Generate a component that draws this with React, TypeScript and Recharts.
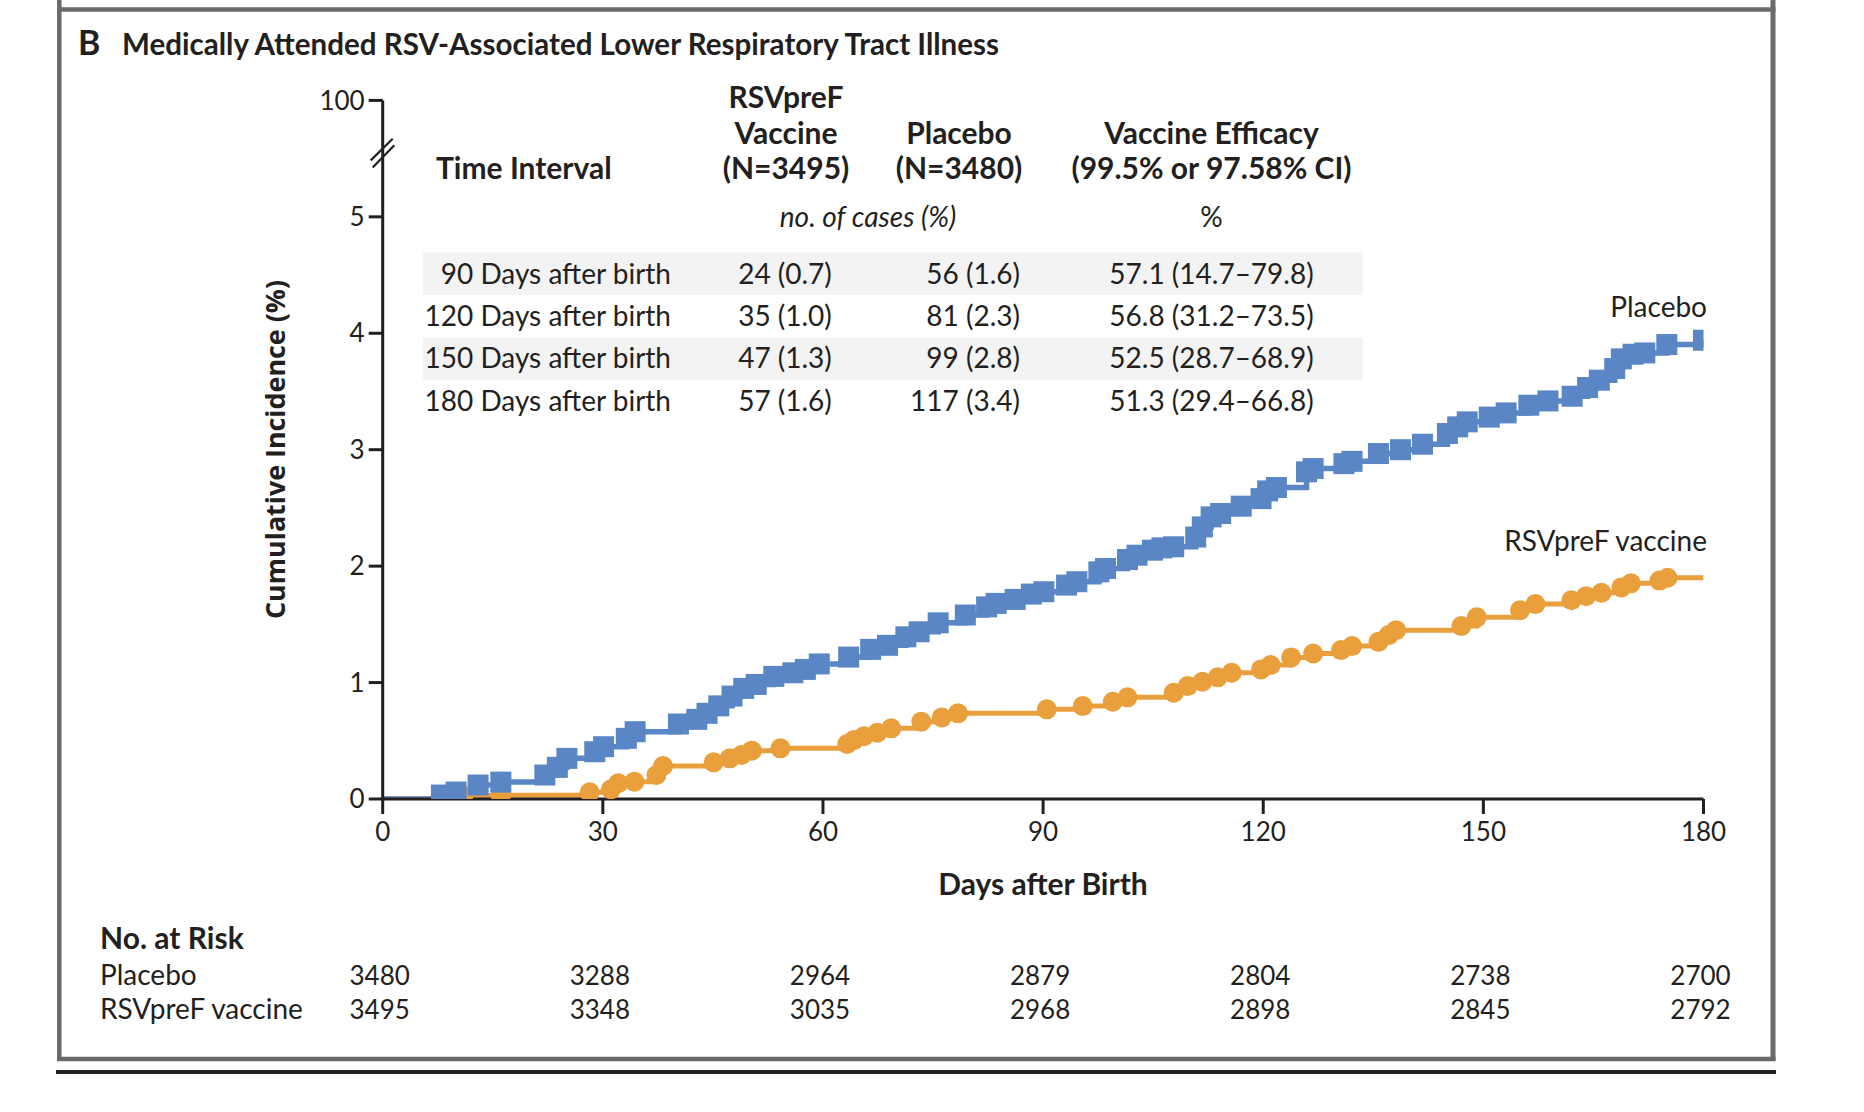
import React from 'react';
import { LineChart, Line, XAxis, YAxis, ReferenceLine } from 'recharts';

// Kaplan-Meier style cumulative incidence (days, %)
const placeboDays = [8.0, 10.0, 13.0, 16.1, 22.1, 23.8, 25.1, 28.9, 30.1, 33.2, 34.4, 40.3, 42.8, 44.2, 45.8, 47.6, 49.2, 50.9, 53.3, 55.9, 57.6, 59.5, 63.5, 66.5, 68.8, 71.3, 73.1, 75.7, 79.4, 82.3, 83.6, 86.2, 88.4, 90.1, 93.2, 94.6, 97.6, 98.5, 101.5, 102.8, 104.9, 106.2, 107.8, 110.8, 111.7, 112.9, 114.2, 117.0, 119.7, 120.6, 121.8, 125.9, 126.8, 131.0, 132.1, 135.7, 138.7, 141.7, 145.1, 146.5, 147.8, 150.8, 153.1, 156.2, 158.8, 162.1, 164.2, 165.8, 167.9, 168.8, 170.4, 172.0, 175.0, 180];
const placeboPct = [0.034, 0.06, 0.12, 0.145, 0.206, 0.272, 0.349, 0.406, 0.449, 0.521, 0.578, 0.644, 0.684, 0.736, 0.8, 0.884, 0.95, 0.984, 1.053, 1.084, 1.113, 1.16, 1.219, 1.285, 1.32, 1.393, 1.436, 1.513, 1.58, 1.65, 1.68, 1.714, 1.76, 1.78, 1.837, 1.866, 1.951, 1.98, 2.057, 2.094, 2.137, 2.157, 2.166, 2.25, 2.337, 2.423, 2.452, 2.515, 2.58, 2.646, 2.675, 2.81, 2.838, 2.88, 2.9, 2.967, 3.0, 3.047, 3.139, 3.196, 3.239, 3.28, 3.316, 3.382, 3.419, 3.459, 3.534, 3.597, 3.697, 3.78, 3.82, 3.831, 3.903, 3.94];

const vaccineDays = [11.0, 16.1, 28.2, 31.1, 32.1, 34.3, 37.3, 38.2, 45.1, 47.3, 48.9, 50.3, 54.2, 63.3, 64.2, 65.6, 67.4, 69.3, 73.4, 76.2, 78.4, 90.5, 95.4, 99.5, 101.5, 107.8, 109.7, 111.7, 113.8, 115.7, 119.7, 121.0, 123.8, 126.8, 130.6, 132.1, 135.7, 137.1, 138.1, 147.0, 149.1, 155.0, 157.1, 162.0, 164.0, 166.1, 168.8, 170.1, 174.0, 175.1];
const vaccinePct = [0.03, 0.032, 0.057, 0.083, 0.135, 0.149, 0.206, 0.283, 0.315, 0.349, 0.378, 0.415, 0.435, 0.472, 0.506, 0.54, 0.569, 0.607, 0.664, 0.701, 0.736, 0.77, 0.798, 0.835, 0.873, 0.913, 0.97, 1.007, 1.045, 1.084, 1.113, 1.15, 1.216, 1.25, 1.279, 1.313, 1.35, 1.408, 1.45, 1.485, 1.56, 1.622, 1.674, 1.708, 1.742, 1.771, 1.817, 1.852, 1.876, 1.9];
const followUpEnd = 180;

const xTicks = [0, 30, 60, 90, 120, 150, 180];
const yTicks = [0, 1, 2, 3, 4, 5, 6];
const yTickLabels = ['0', '1', '2', '3', '4', '5', '100'];

const intervals = ['90 Days after birth', '120 Days after birth', '150 Days after birth', '180 Days after birth'];
const vaccineCases = ['24 (0.7)', '35 (1.0)', '47 (1.3)', '57 (1.6)'];
const placeboCases = ['56 (1.6)', '81 (2.3)', '99 (2.8)', '117 (3.4)'];
const efficacy = ['57.1 (14.7–79.8)', '56.8 (31.2–73.5)', '52.5 (28.7–68.9)', '51.3 (29.4–66.8)'];

const placeboAtRisk = [3480, 3288, 2964, 2879, 2804, 2738, 2700];
const vaccineAtRisk = [3495, 3348, 3035, 2968, 2898, 2845, 2792];

const BLUE = '#5a86c5';
const ORANGE = '#e99f3b';
const INK = '#231f20';
const FRAME = '#6a6a6a';
const FONT = 'Lato, "Open Sans", sans-serif';

// plot geometry
const PLOT_LEFT = 382.7;
const PLOT_RIGHT = 1703.5;
const PLOT_TOP = 100.4;
const PLOT_BOTTOM = 799;
const Y_AXIS_W = 100;
const X_AXIS_H = 60;

function buildSeries(days: number[], pct: number[], tail?: number) {
  const rows = [{ day: 0, pct: 0, mark: false }];
  days.forEach((d, i) => rows.push({ day: d, pct: pct[i], mark: true }));
  if (tail !== undefined) rows.push({ day: tail, pct: pct[pct.length - 1], mark: false });
  return rows;
}

const placeboSeries = buildSeries(placeboDays, placeboPct);
const vaccineSeries = buildSeries(vaccineDays, vaccinePct, followUpEnd);

function SquareDot(props: any) {
  const { cx, cy, payload, index } = props;
  if (!payload || !payload.mark || cx == null) return <g key={`sq-${index}`} />;
  return <rect key={`sq-${index}`} x={cx - 10.5} y={cy - 10.5} width={21} height={21} fill={BLUE} />;
}

function CircleDot(props: any) {
  const { cx, cy, payload, index } = props;
  if (!payload || !payload.mark || cx == null) return <g key={`ci-${index}`} />;
  return <circle key={`ci-${index}`} cx={cx} cy={cy} r={10} fill={ORANGE} />;
}

const dayToX = (d: number) => PLOT_LEFT + (d / 180) * (PLOT_RIGHT - PLOT_LEFT);

function Overlay() {
  const rowBase = [283.7, 325.8, 368.4, 410.6];
  return (
    <svg width={1864} height={1112} style={{ position: 'absolute', left: 0, top: 0 }}>
      <rect x={0} y={0} width={1864} height={1112} fill="#ffffff" />
      {/* panel frame */}
      <line x1={59.3} y1={0} x2={59.3} y2={1061} stroke={FRAME} strokeWidth={4.5} />
      <line x1={1773} y1={0} x2={1773} y2={1061} stroke={FRAME} strokeWidth={5} />
      <line x1={57} y1={9.5} x2={1775.5} y2={9.5} stroke={FRAME} strokeWidth={4.5} />
      <line x1={57} y1={1059} x2={1775.5} y2={1059} stroke={FRAME} strokeWidth={4.5} />
      <line x1={56} y1={1072} x2={1776} y2={1072} stroke={INK} strokeWidth={4} />

      <g fontFamily={FONT} fill={INK}>
        <text x={78} y={55} fontSize={34} fontWeight={700}>B</text>
        <text x={122} y={55} fontSize={30} fontWeight={700} textLength={877} lengthAdjust="spacingAndGlyphs">
          Medically Attended RSV-Associated Lower Respiratory Tract Illness
        </text>

        {/* table */}
        <rect x={423} y={252.5} width={940} height={42.5} fill="#f3f3f3" />
        <rect x={423} y={337.6} width={940} height={42.5} fill="#f3f3f3" />
        <g fontSize={30} fontWeight={700}>
          <text x={436} y={179}>Time Interval</text>
          <text x={786} y={108} textAnchor="middle">RSVpreF</text>
          <text x={786} y={143.6} textAnchor="middle">Vaccine</text>
          <text x={786} y={179} textAnchor="middle">(N=3495)</text>
          <text x={959} y={143.6} textAnchor="middle">Placebo</text>
          <text x={959} y={179} textAnchor="middle">(N=3480)</text>
          <text x={1211.5} y={143.6} textAnchor="middle">Vaccine Efficacy</text>
          <text x={1211.5} y={179} textAnchor="middle">(99.5% or 97.58% CI)</text>
        </g>
        <text x={868} y={227} fontSize={28} fontStyle="italic" textAnchor="middle">no. of cases (%)</text>
        <text x={1211.5} y={227} fontSize={28} textAnchor="middle">%</text>
        <g fontSize={28}>
          {intervals.map((t, i) => (
            <text key={`iv-${i}`} x={671} y={rowBase[i]} textAnchor="end">{t}</text>
          ))}
          {vaccineCases.map((t, i) => (
            <text key={`vc-${i}`} x={785} y={rowBase[i]} textAnchor="middle">{t}</text>
          ))}
          {placeboCases.map((t, i) => (
            <text key={`pc-${i}`} x={1020} y={rowBase[i]} textAnchor="end">{t}</text>
          ))}
          {efficacy.map((t, i) => (
            <text key={`ef-${i}`} x={1211.5} y={rowBase[i]} textAnchor="middle">{t}</text>
          ))}
        </g>

        {/* curve labels */}
        <text x={1707} y={316.7} fontSize={28} textAnchor="end">Placebo</text>
        <text x={1707} y={550.7} fontSize={28} textAnchor="end">RSVpreF vaccine</text>

        {/* axis titles */}
        <text x={1043} y={894.6} fontSize={30} fontWeight={700} textAnchor="middle">Days after Birth</text>
        <text
          transform="translate(285,449.5) rotate(-90)"
          fontFamily='"Open Sans", "DejaVu Sans", sans-serif'
          fontSize={27}
          fontWeight={700}
          textAnchor="middle"
          textLength={339}
          lengthAdjust="spacingAndGlyphs"
        >
          Cumulative Incidence (%)
        </text>

        {/* number at risk */}
        <text x={100} y={949} fontSize={30} fontWeight={700}>No. at Risk</text>
        <text x={100} y={985} fontSize={28}>Placebo</text>
        <text x={100} y={1018.7} fontSize={28}>RSVpreF vaccine</text>
        <g fontSize={26} textAnchor="middle">
          {placeboAtRisk.map((n, i) => (
            <text key={`pr-${i}`} x={dayToX(xTicks[i]) - 3} y={985}>{n}</text>
          ))}
          {vaccineAtRisk.map((n, i) => (
            <text key={`vr-${i}`} x={dayToX(xTicks[i]) - 3} y={1018.7}>{n}</text>
          ))}
        </g>
      </g>
    </svg>
  );
}

export default function App() {
  const axisStroke = { stroke: INK, strokeWidth: 3 };
  return (
    <div style={{ position: 'absolute', left: 0, top: 0, width: 1864, height: 1112 }}>
      <Overlay />
      <div style={{ position: 'absolute', left: 0, top: 0 }}>
        <LineChart
          width={1864}
          height={1112}
          margin={{
            top: PLOT_TOP,
            right: 1864 - PLOT_RIGHT,
            bottom: 1112 - PLOT_BOTTOM - X_AXIS_H,
            left: PLOT_LEFT - Y_AXIS_W,
          }}
        >
          <XAxis
            type="number"
            dataKey="day"
            domain={[0, 180]}
            ticks={xTicks}
            height={X_AXIS_H}
            axisLine={axisStroke}
            tickLine={axisStroke}
            tickSize={15}
            tickMargin={9}
            tick={{ fill: INK, fontSize: 26, fontFamily: FONT }}
            allowDataOverflow
          />
          <YAxis
            type="number"
            dataKey="pct"
            domain={[0, 6]}
            ticks={yTicks}
            width={Y_AXIS_W}
            axisLine={axisStroke}
            tickLine={axisStroke}
            tickSize={14}
            tickMargin={4}
            tickFormatter={(v: number) => yTickLabels[yTicks.indexOf(v)]}
            tick={{ fill: INK, fontSize: 26, fontFamily: FONT }}
            allowDataOverflow
          />
          <Line
            data={vaccineSeries}
            dataKey="pct"
            type="stepAfter"
            stroke={ORANGE}
            strokeWidth={5}
            dot={CircleDot}
            activeDot={false}
            isAnimationActive={false}
          />
          <Line
            data={placeboSeries}
            dataKey="pct"
            type="stepAfter"
            stroke={BLUE}
            strokeWidth={5.5}
            dot={SquareDot}
            activeDot={false}
            isAnimationActive={false}
          />
          {/* axis break between 5 and 100 */}
          <ReferenceLine
            segment={[{ x: -0.68, y: 5.505 }, { x: 0.68, y: 5.592 }]}
            stroke="#ffffff"
            strokeWidth={4}
            ifOverflow="visible"
          />
          <ReferenceLine
            segment={[{ x: -1.635, y: 5.485 }, { x: 1.363, y: 5.671 }]}
            stroke={INK}
            strokeWidth={2.2}
            ifOverflow="visible"
          />
          <ReferenceLine
            segment={[{ x: -1.363, y: 5.423 }, { x: 1.58, y: 5.614 }]}
            stroke={INK}
            strokeWidth={2.2}
            ifOverflow="visible"
          />
        </LineChart>
      </div>
    </div>
  );
}
